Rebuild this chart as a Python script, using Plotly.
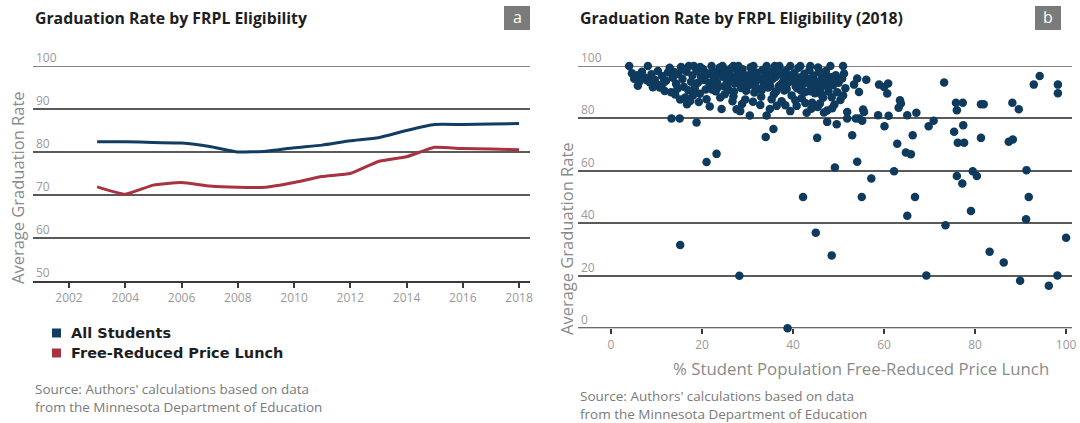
import plotly.graph_objects as go

W, H = 1080, 423

# ---- Panel a: graduation rate over time ----
years = list(range(2003, 2019))
all_students = [82.4, 82.4, 82.2, 82.1, 81.3, 80.0, 80.2, 81.0, 81.6, 82.6, 83.3, 85.0, 86.4, 86.4, 86.5, 86.6]
frpl_students = [71.9, 70.2, 72.3, 72.9, 72.1, 71.8, 71.8, 72.9, 74.3, 75.0, 77.8, 78.9, 81.1, 80.8, 80.7, 80.5]
series_names = ["All Students", "Free-Reduced Price Lunch"]
year_ticks = list(range(2002, 2019, 2))
rate_ticks_a = [50, 60, 70, 80, 90, 100]

# ---- Panel b: school-level rates in 2018 (% FRPL, graduation rate) ----
schools_main = [
    (4.0, 100), (4.6, 97.2), (5.1, 95.1), (5.8, 96.5), (6.3, 94.2), (5.9, 92.5), (6.8, 97.8), (7.4, 95.6),
    (8.1, 100), (8.5, 93.8), (8.9, 96.9), (9.6, 94.8), (10.0, 93.0), (10.3, 98.1), (10.7, 91.8), (11.2, 96.2),
    (11.8, 90.5), (12.1, 94.4), (12.5, 97.5), (12.9, 99.3), (13.2, 90.0), (13.6, 95.5), (14.1, 89.1), (14.3, 93.2),
    (14.8, 97.0), (15.2, 87.2), (15.4, 99.6), (15.7, 95.0), (16.0, 92.1), (16.3, 88.0), (16.6, 97.8), (16.7, 85.4),
    (17.1, 100), (17.4, 86.7), (17.6, 94.0), (17.9, 96.4), (18.2, 100), (18.4, 91.5), (18.8, 98.2), (19.1, 93.6),
    (19.5, 89.4), (19.8, 96.0), (20.2, 98.9), (20.5, 94.7), (20.8, 91.0), (21.0, 87.3), (21.3, 96.8), (21.7, 84.6),
    (21.9, 92.9), (22.1, 100), (22.4, 98.0), (22.7, 95.3), (23.0, 90.4), (23.3, 93.8), (23.6, 97.2), (23.9, 99.4),
    (24.0, 88.0), (24.3, 83.6), (24.6, 95.9), (24.9, 92.3), (25.2, 98.6), (25.5, 94.1), (25.8, 90.9), (26.1, 96.7),
    (26.4, 99.1), (26.9, 100), (26.9, 88.5), (27.2, 93.3), (27.6, 83.5), (27.8, 97.6), (28.1, 95.0), (28.4, 82.8),
    (28.6, 91.6), (28.9, 98.8), (29.2, 94.4), (29.5, 87.2), (29.8, 96.3), (30.1, 92.5), (30.5, 81.1), (30.7, 99.5),
    (31.0, 95.7), (31.3, 100), (31.5, 89.9), (31.8, 93.9), (32.1, 97.4), (32.4, 91.2), (32.7, 95.1), (33.0, 88.3),
    (33.3, 98.5), (33.6, 93.0), (33.9, 96.1), (34.2, 100), (34.2, 81.1), (34.5, 91.8), (34.9, 83.6), (35.1, 94.6),
    (35.4, 97.9), (35.8, 89.2), (36.1, 95.8), (36.4, 84.8), (36.6, 99.0), (36.9, 92.4), (37.2, 96.9), (37.5, 86.6),
    (37.8, 94.0), (38.1, 90.7), (38.4, 98.2), (38.7, 93.3), (39.0, 96.0), (39.4, 100), (39.4, 82.8), (39.7, 88.8),
    (40.0, 94.9), (40.3, 97.3), (40.8, 84.8), (40.9, 91.5), (41.2, 99.3), (41.6, 100), (41.6, 95.6), (41.9, 87.7),
    (42.2, 93.1), (42.5, 97.0), (42.8, 90.2), (43.0, 82.2), (43.3, 95.0), (43.6, 98.4), (43.9, 92.6), (44.2, 86.0),
    (44.5, 96.4), (44.8, 89.6), (45.1, 94.0), (45.4, 84.4), (45.7, 97.7), (46.0, 91.4), (46.3, 95.2), (46.6, 87.9),
    (46.9, 93.4), (47.2, 98.1), (47.5, 83.0), (47.8, 90.3), (48.2, 100), (48.1, 95.8), (48.5, 88.1), (48.8, 92.7),
    (49.1, 85.3), (49.4, 96.5), (49.7, 90.0), (50.0, 93.6), (50.4, 87.0), (50.8, 95.2), (51.0, 100), (51.2, 97.1),
    (51.0, 88.8), (51.5, 91.5),
    (20.9, 97.4), (21.6, 93.5), (22.9, 96.0), (23.5, 91.9), (24.8, 97.9), (25.6, 92.8), (26.3, 94.9), (27.0, 90.3),
    (27.5, 95.8), (28.3, 93.9), (29.0, 96.9), (29.7, 90.6), (30.3, 94.1), (30.9, 97.9), (31.7, 92.0), (32.3, 95.9),
    (33.1, 90.8), (33.7, 95.4), (34.4, 97.6), (35.0, 92.2), (35.6, 95.2), (36.3, 90.3), (36.8, 97.4), (37.4, 93.0),
    (38.0, 95.6), (38.6, 91.2), (39.2, 94.0), (39.9, 96.7), (40.6, 92.2), (41.0, 93.7), (41.7, 90.8), (42.4, 95.5),
    (43.1, 93.8), (43.8, 90.4), (44.4, 94.3), (45.0, 91.5), (45.6, 93.0), (46.2, 89.2), (47.0, 95.6), (47.6, 92.1),
    (48.4, 93.5), (49.0, 94.6), (22.2, 91.0), (25.0, 89.2), (26.7, 86.6), (28.8, 85.5), (31.2, 86.4), (32.8, 85.1),
    (35.3, 87.3), (38.3, 85.0), (40.5, 86.9), (42.7, 85.9), (44.0, 83.7), (45.9, 85.7), (46.8, 82.3), (48.6, 83.9),
    (17.0, 90.8), (18.0, 88.8), (19.3, 86.3), (14.6, 91.3), (11.5, 93.5), (9.2, 91.9), (7.9, 94.6), (13.9, 97.7),
    (15.9, 98.9), (19.6, 99.6), (24.5, 100), (28.0, 100), (36.0, 100), (37.0, 100), (43.8, 100), (45.5, 99.4),
]
schools_spread = [
    (94.2, 96.2), (92.9, 92.9), (98.2, 92.9), (98.2, 89.6), (73.2, 93.7), (75.8, 86.0), (77.3, 86.0), (76.0, 83.1),
    (81.3, 85.4), (81.9, 85.4), (88.2, 86.0), (89.6, 83.5), (75.4, 74.9), (77.4, 77.4), (76.2, 70.7), (77.6, 70.7),
    (81.3, 72.6), (87.4, 71.1), (88.3, 72.0), (69.8, 77.0), (70.9, 79.1), (67.1, 82.2), (65.1, 81.2), (66.3, 73.6),
    (62.9, 70.4), (64.8, 67.0), (65.9, 66.4), (60.1, 77.0), (61.0, 81.0), (58.7, 81.2), (63.5, 86.9), (63.7, 85.7),
    (63.2, 84.1), (58.9, 92.9), (60.0, 92.0), (60.9, 93.3), (60.7, 89.5), (56.1, 94.8), (54.1, 95.2), (53.4, 92.9),
    (54.5, 90.1), (55.4, 83.4), (55.6, 82.5), (53.8, 80.0), (54.5, 80.0), (55.2, 79.1), (51.9, 82.5), (51.9, 80.0),
    (49.6, 77.8), (47.5, 78.7), (53.0, 73.6), (45.3, 72.6), (49.2, 61.3), (54.1, 63.5), (57.2, 57.1), (62.2, 59.9),
    (76.0, 58.1), (77.2, 55.2), (79.5, 59.9), (80.4, 58.1), (91.3, 60.3), (42.2, 50.1), (55.1, 50.1), (66.8, 50.1),
    (91.8, 50.1), (65.1, 42.9), (79.1, 44.7), (91.2, 41.6), (73.5, 39.3), (45.0, 36.4), (100.0, 34.5), (48.5, 27.8),
    (83.2, 29.2), (86.3, 25.1), (69.3, 20.1), (89.9, 18.1), (98.1, 20.1), (96.2, 16.2), (15.2, 31.8), (28.2, 20.0),
    (38.8, 0.0), (21.0, 63.4), (23.2, 66.5), (34.0, 72.9), (35.7, 76.0), (13.3, 80.0), (15.1, 80.0), (18.8, 78.5),
]
pct_ticks = [0, 20, 40, 60, 80, 100]
rate_ticks_b = [0, 20, 40, 60, 80, 100]

BLUE = "#123d63"
RED = "#a8323f"
DOT = "#0e3a5e"
GRID = "#5a5a5a"
TICK_GRAY = "#9a9a9a"
TEXT_GRAY = "#8a8a8a"
FONT = "Open Sans"


def px(x):
    return x / W


def py(y):
    return 1 - y / H


fig = go.Figure()

fig.add_trace(go.Scatter(x=years, y=all_students, mode="lines", name=series_names[0],
                         line=dict(color=BLUE, width=3, shape="spline", smoothing=0.4),
                         xaxis="x", yaxis="y", showlegend=False))
fig.add_trace(go.Scatter(x=years, y=frpl_students, mode="lines", name=series_names[1],
                         line=dict(color=RED, width=3, shape="spline", smoothing=0.4),
                         xaxis="x", yaxis="y", showlegend=False))

pts = schools_main + schools_spread
fig.add_trace(go.Scatter(x=[p[0] for p in pts], y=[p[1] for p in pts], mode="markers",
                         marker=dict(color=DOT, size=8.5, line=dict(width=0)),
                         cliponaxis=False, xaxis="x2", yaxis="y2", showlegend=False))

axis_font = dict(family=FONT, size=12, color=TICK_GRAY)

fig.update_layout(
    width=W, height=H,
    margin=dict(l=0, r=0, t=0, b=0, autoexpand=False),
    paper_bgcolor="white", plot_bgcolor="white",
    font=dict(family=FONT),
    xaxis=dict(domain=[px(33), px(530)], range=[2000.72, 2018.39], tickvals=year_ticks,
               showgrid=False, zeroline=False, showline=True, linecolor="#3a3a3a", linewidth=2,
               ticks="outside", ticklen=5, tickcolor="#3a3a3a", tickwidth=1.5,
               tickfont=axis_font, anchor="y", automargin=False),
    yaxis=dict(domain=[py(281), py(66)], range=[50, 100], tickvals=rate_ticks_a,
               showgrid=True, gridcolor=GRID, gridwidth=1.5, zeroline=False, showline=False,
               ticks="", ticklabelposition="inside top", ticklabeloverflow="allow",
               tickfont=axis_font, anchor="x", automargin=False),
    xaxis2=dict(domain=[px(578), px(1072)], range=[-7.25, 101.3], tickvals=pct_ticks,
                showgrid=False, zeroline=False, showline=False,
                ticks="outside", ticklen=5, tickcolor="#3a3a3a", tickwidth=1.5,
                tickfont=axis_font, anchor="y2", automargin=False),
    yaxis2=dict(domain=[py(328.3), py(66)], range=[0, 100], tickvals=rate_ticks_b,
                showgrid=True, gridcolor=GRID, gridwidth=1.5, zeroline=False, showline=False,
                ticks="", ticklabelposition="inside top", ticklabeloverflow="allow",
                tickfont=axis_font, anchor="x2", automargin=False),
)

shapes = []
# top grid lines at the range edge and the darker baseline under panel b
shapes.append(dict(type="line", xref="x domain", yref="y", x0=0, x1=1, y0=100, y1=100,
                   line=dict(color=GRID, width=1.5), layer="below"))
shapes.append(dict(type="line", xref="x2 domain", yref="y2", x0=0, x1=1, y0=100, y1=100,
                   line=dict(color=GRID, width=1.5), layer="below"))
shapes.append(dict(type="line", xref="x2 domain", yref="y2", x0=0, x1=1, y0=0, y1=0,
                   line=dict(color="#3a3a3a", width=2), layer="below"))

annotations = []

# panel titles
for x0, text in [(33, "Graduation Rate by FRPL Eligibility"),
                 (578, "Graduation Rate by FRPL Eligibility (2018)")]:
    annotations.append(dict(x=px(x0), y=py(18), xref="paper", yref="paper", xanchor="left",
                            yanchor="middle", showarrow=False, text=f"<b>{text}</b>",
                            font=dict(family=FONT, size=15.8, color="#1e1e1e")))

# panel letter badges
for x0, x1, letter in [(504, 530, "a"), (1035, 1061, "b")]:
    shapes.append(dict(type="rect", xref="paper", yref="paper", x0=px(x0), x1=px(x1),
                       y0=py(30), y1=py(6), fillcolor="#7b7b7b", line=dict(width=0)))
    annotations.append(dict(x=px((x0 + x1) / 2), y=py(17), xref="paper", yref="paper",
                            xanchor="center", yanchor="middle", showarrow=False, text=letter,
                            font=dict(family=FONT, size=16, color="white")))

# axis titles
for x0, yc in [(17, 188), (566, 239)]:
    annotations.append(dict(x=px(x0), y=py(yc), xref="paper", yref="paper", xanchor="center",
                            yanchor="middle", showarrow=False, text="Average Graduation Rate",
                            textangle=-90, font=dict(family=FONT, size=16.5, color=TEXT_GRAY)))
annotations.append(dict(x=px(861), y=py(368), xref="paper", yref="paper", xanchor="center",
                        yanchor="middle", showarrow=False,
                        text="% Student Population Free-Reduced Price Lunch",
                        font=dict(family=FONT, size=16.8, color=TEXT_GRAY)))

# legend for panel a
for yc, color, name in [(333, BLUE, series_names[0]), (353, RED, series_names[1])]:
    shapes.append(dict(type="rect", xref="paper", yref="paper", x0=px(52), x1=px(61),
                       y0=py(yc + 4.5), y1=py(yc - 4.5), fillcolor=color, line=dict(width=0)))
    annotations.append(dict(x=px(69), y=py(yc), xref="paper", yref="paper", xanchor="left",
                            yanchor="middle", showarrow=False, text=f"<b>{name}</b>",
                            font=dict(family="DejaVu Sans", size=14.5, color="#1e1e1e")))

# source notes
source_text = "Source: Authors' calculations based on data<br>from the Minnesota Department of Education"
for x0, yc in [(33, 398), (578, 405)]:
    annotations.append(dict(x=px(x0), y=py(yc), xref="paper", yref="paper", xanchor="left",
                            yanchor="middle", align="left", showarrow=False, text=source_text,
                            font=dict(family=FONT, size=13.5, color="#7a7a7a")))

fig.update_layout(annotations=annotations, shapes=shapes)

fig.write_html("out.html")
